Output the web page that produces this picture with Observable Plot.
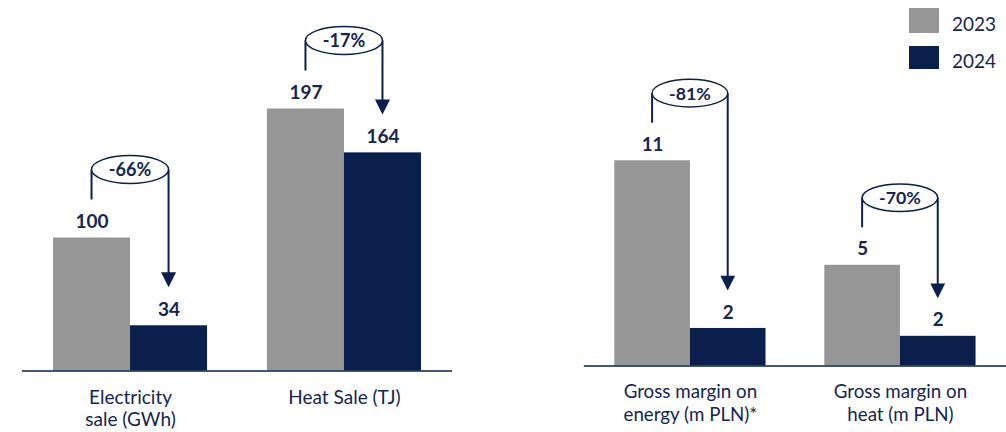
<!DOCTYPE html>
<html><head><meta charset="utf-8">
<script src="https://cdn.jsdelivr.net/npm/d3@7"></script>
<script src="https://cdn.jsdelivr.net/npm/@observablehq/plot@0.6"></script>
<style>
body{margin:0;background:#fff;}
#wrap{position:relative;width:1006px;height:432px;overflow:hidden;font-family:Lato,sans-serif;}
#left,#right{position:absolute;top:0;}
#left{left:0}
#right{left:500px}
.sw{position:absolute;width:30px;}
.lt{position:absolute;font-size:19px;color:#14254f;line-height:1;}
</style></head>
<body><div id="wrap"><div id="left"></div><div id="right"></div><div id="legend"></div></div>
<script>
const years = ["2023", "2024"];
const leftCategories = ["Electricity\nsale (GWh)", "Heat Sale (TJ)"];
const left2023 = [100, 197];
const left2024 = [34, 164];
const leftChange = ["-66%", "-17%"];
const rightCategories = ["Gross margin on\nenergy (m PLN)*", "Gross margin on\nheat (m PLN)"];
const right2023 = [10.95, 5.37];
const right2024 = [2.0, 1.58];
const rightChange = ["-81%", "-70%"];

const GRAY = "#969696", NAVY = "#0a1f4b", TEXT = "#14254f";
const HALF = 0.36;

function panel({categories, v23, v24, change, yMax, width, marginLeft, marginRight}) {
  const rows = [];
  categories.forEach((c, i) => {
    rows.push({i, year: years[0], value: v23[i]});
    rows.push({i, year: years[1], value: v24[i]});
  });
  const ann = categories.map((c, i) => ({i, v23: v23[i], v24: v24[i], label: change[i]}));
  const annotate = (index, scales) => {
    const g = d3.create("svg:g");
    for (const a of ann) {
      const xa = scales.x(a.i - HALF / 2), xb = scales.x(a.i + HALF / 2);
      const ya = scales.y(a.v23), yb = scales.y(a.v24);
      const ey = ya - 68, lb = ya - 38, tip = yb - 38;
      const xm = (xa + xb) / 2;
      g.append("path").attr("d", `M${xa},${lb}V${ey}`).attr("stroke", NAVY).attr("stroke-width", 2).attr("fill", "none");
      g.append("path").attr("d", `M${xb},${ey}V${tip - 12}`).attr("stroke", NAVY).attr("stroke-width", 2).attr("fill", "none");
      g.append("path").attr("d", `M${xb - 7.5},${tip - 15}L${xb + 7.5},${tip - 15}L${xb},${tip}Z`).attr("fill", NAVY);
      g.append("ellipse").attr("cx", xm).attr("cy", ey).attr("rx", (xb - xa) / 2).attr("ry", 14)
        .attr("fill", "white").attr("stroke", NAVY).attr("stroke-width", 1.5);
      g.append("text").attr("x", xm).attr("y", ey).attr("dy", "0.36em").attr("text-anchor", "middle")
        .style("font-weight", "bold").style("font-size", "18px").style("font-family", "Lato, sans-serif")
        .attr("fill", TEXT).text(a.label);
    }
    return g.node();
  };
  return Plot.plot({
    width, height: 432, marginLeft, marginRight, marginTop: 0, marginBottom: 61.5,
    x: {type: "linear", domain: [-0.505, 1.505], axis: null},
    y: {domain: [0, yMax], axis: null},
    color: {domain: years, range: [GRAY, NAVY]},
    style: {fontFamily: "Lato, sans-serif", color: TEXT, overflow: "visible", background: "transparent"},
    marks: [
      Plot.rect(rows, {
        x1: d => d.year === years[0] ? d.i - HALF : d.i,
        x2: d => d.year === years[0] ? d.i : d.i + HALF,
        y1: d => 0, y2: "value", fill: "year"
      }),
      Plot.ruleY([0], {stroke: NAVY, strokeWidth: 1.5}),
      Plot.text(rows, {
        x: d => d.i + (d.year === years[0] ? -HALF / 2 : HALF / 2),
        y: "value", text: d => d3.format(",.0f")(d.value),
        dy: -10, lineAnchor: "bottom", fontWeight: "bold", fontSize: 19, fill: TEXT
      }),
      Plot.axisX([0, 1], {tickFormat: i => categories[i], tickSize: 0, tickPadding: 17, fontSize: 19, lineHeight: 1.18, fill: TEXT, anchor: "bottom"}),
      annotate
    ]
  });
}

document.getElementById("left").append(panel({
  categories: leftCategories, v23: left2023, v24: left2024, change: leftChange,
  yMax: 370.5 / 1.33, width: 500, marginLeft: 22, marginRight: 48
}));
document.getElementById("right").append(panel({
  categories: rightCategories, v23: right2023, v24: right2024, change: rightChange,
  yMax: 370.5 / 19, width: 513, marginLeft: 85, marginRight: 0
}));

const legend = document.getElementById("legend");
const legendColors = [GRAY, NAVY];
years.forEach((y, k) => {
  const sw = document.createElement("div");
  sw.className = "sw";
  sw.style.left = "909px"; sw.style.top = (k === 0 ? 8 : 46) + "px";
  sw.style.height = (k === 0 ? 25 : 23) + "px";
  sw.style.background = legendColors[k];
  legend.append(sw);
  const t = document.createElement("div");
  t.className = "lt";
  t.style.left = "952px"; t.style.top = (k === 0 ? 14 : 51) + "px";
  t.textContent = y;
  legend.append(t);
});
</script>
</body></html>
